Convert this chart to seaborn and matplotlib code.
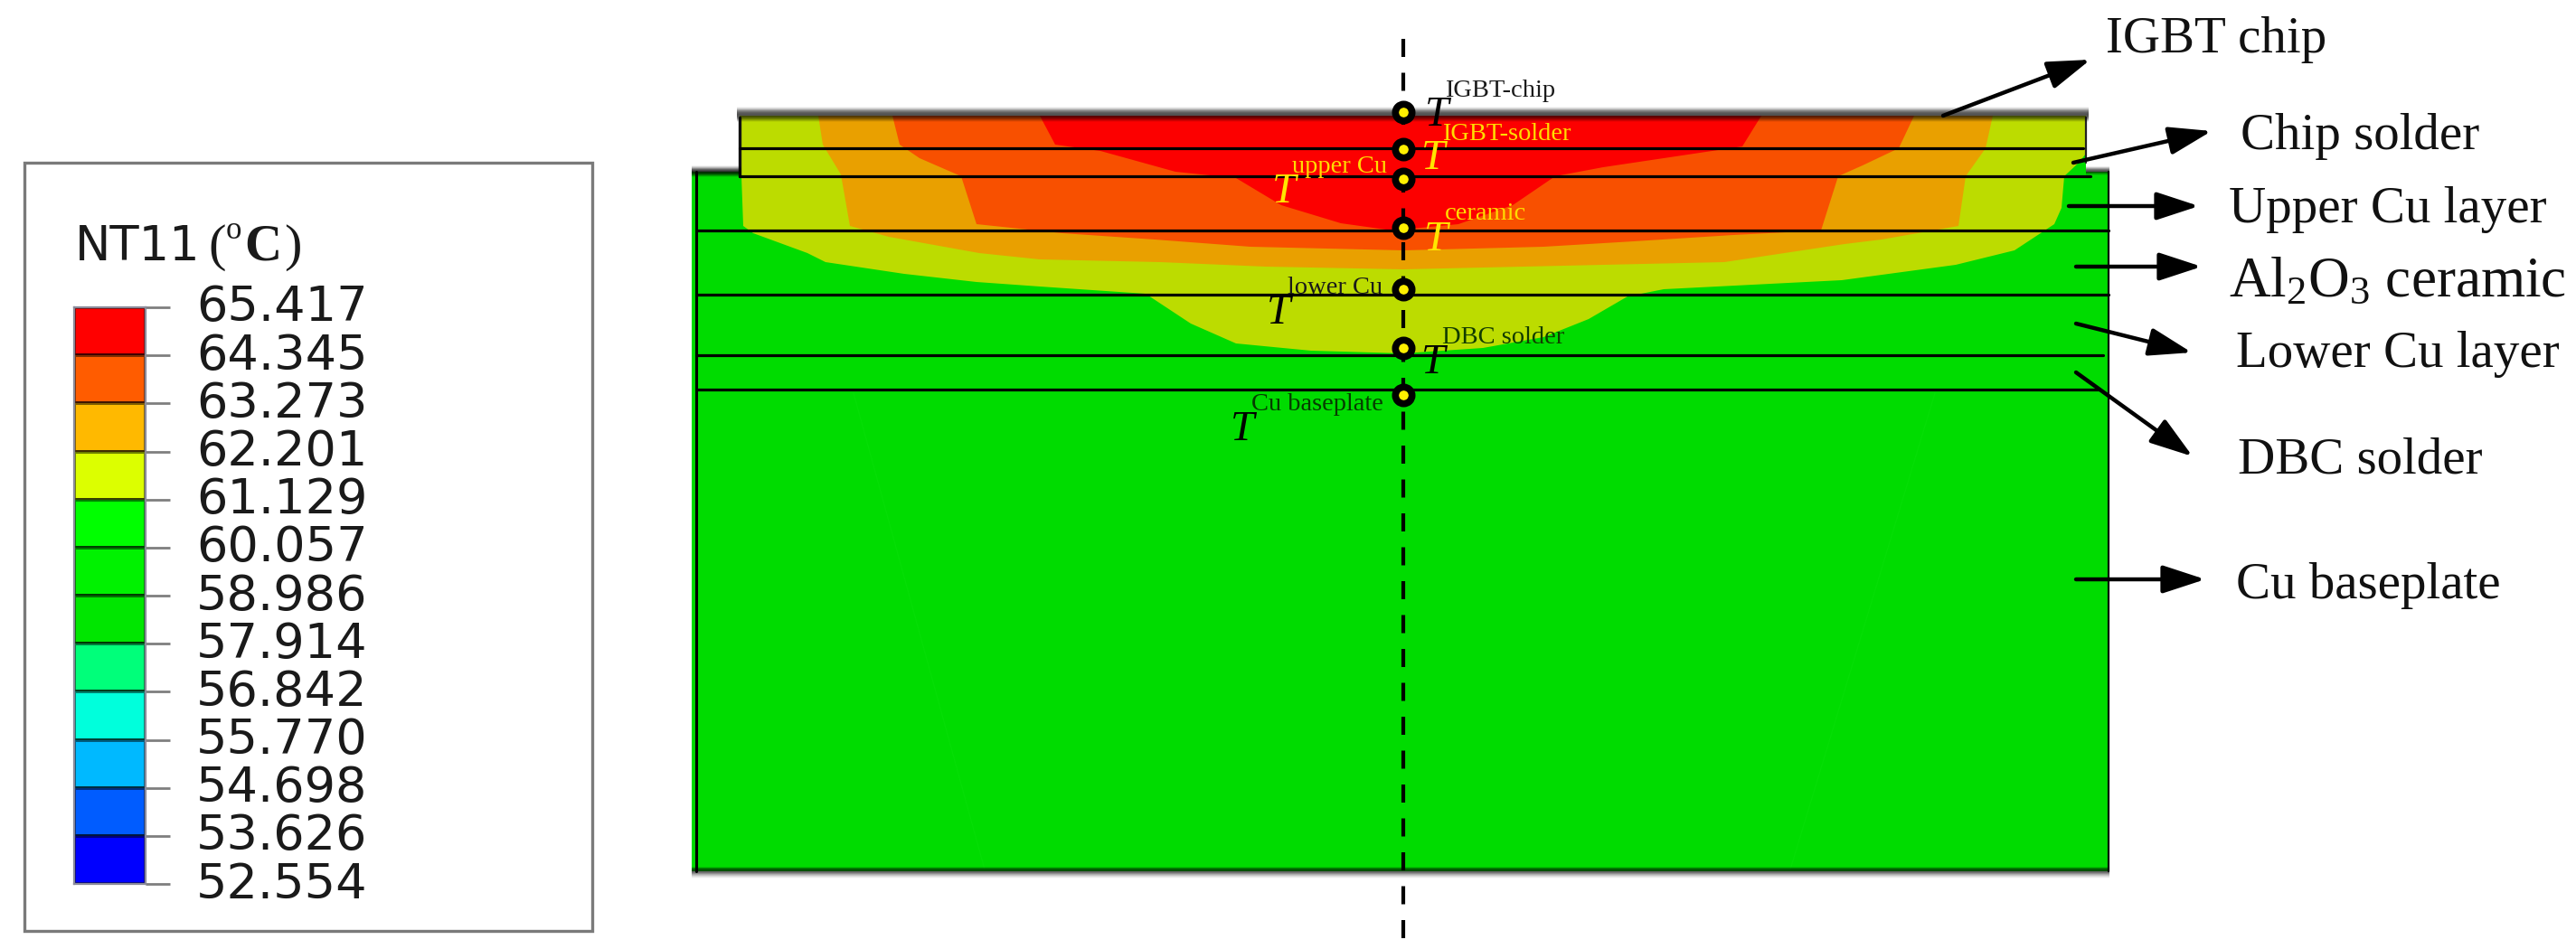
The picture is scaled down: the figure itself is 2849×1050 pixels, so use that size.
import numpy as np
import matplotlib
matplotlib.use("Agg")
import matplotlib.pyplot as plt
from matplotlib.colors import ListedColormap
from matplotlib.patches import Rectangle
from matplotlib.transforms import ScaledTranslation
import seaborn as sns

sns.set_theme(style="white")
plt.rcParams["font.family"] = ["DejaVu Sans"]
plt.rcParams["mathtext.fontset"] = "custom"
plt.rcParams["mathtext.rm"] = "Liberation Serif"
plt.rcParams["mathtext.default"] = "rm"

W, H = 2849, 1050
SERIF = "Liberation Serif"

# legend scale, top to bottom
legend_ticks = [65.417, 64.345, 63.273, 62.201, 61.129, 60.057, 58.986,
                57.914, 56.842, 55.770, 54.698, 53.626, 52.554]
legend_colors = ["#FF0000", "#FF5C00", "#FFB900", "#DCFF00", "#00FF00", "#00F200",
                 "#00E600", "#00FF7A", "#00FFDC", "#00B9FF", "#005CFF", "#0000FF"]

# isotherm outlines
green_color = "#00DC00"
yellow_color = "#BCDC00"
orange_color = "#E9A000"
redorange_color = "#F85000"
red_color = "#FC0000"

body_x = [765, 818, 818, 2307, 2307, 2333, 2333, 765]
body_y = [190, 190, 128, 128, 190, 190, 964, 964]

yellow_x = [818, 818, 820, 822, 833, 893, 913, 1000, 1080, 1150, 1267, 1317, 1367, 1450, 1552,
            1640, 1707, 1757, 1800, 1840, 2037, 2163, 2228, 2272, 2280, 2283, 2299, 2307, 2307]
yellow_y = [128, 193, 195, 250, 258, 280, 290, 303, 312, 317, 325, 358, 380, 388, 391,
            385, 373, 353, 328, 320, 310, 293, 277, 248, 230, 195, 180, 170, 128]

orange_x = [905, 910, 930, 940, 983, 1083, 1150, 1283, 1400, 1552, 1773, 1907, 2040, 2081, 2166, 2174, 2196, 2204]
orange_y = [128, 160, 193, 250, 262, 280, 287, 290, 295, 298, 293, 290, 270, 265, 250, 195, 164, 128]

redorange_x = [987, 995, 1017, 1063, 1080, 1175, 1277, 1383, 1552, 1707, 1807, 1917, 2014, 2033, 2060, 2100, 2117]
redorange_y = [128, 160, 175, 195, 248, 258, 265, 273, 277, 273, 267, 260, 255, 195, 183, 164, 128]

red_x = [1150, 1167, 1217, 1300, 1367, 1417, 1483, 1540, 1613, 1673, 1720, 1773, 1840, 1927, 1948]
red_y = [128, 160, 167, 190, 197, 227, 247, 255, 248, 227, 195, 185, 175, 162, 128]

# layer interfaces: y, x start, x end
interface_y = [164, 195, 255, 326, 393, 431]
interface_x0 = [818, 818, 770, 770, 770, 770]
interface_x1 = [2304, 2312, 2332, 2332, 2326, 2322]

center_x = 1552
probe_y = [124, 165, 198, 252, 320, 385, 437]

# probe labels: subscript text, T position, subscript position, colour
probe_names = ["IGBT-chip", "IGBT-solder", "upper Cu", "ceramic", "lower Cu", "DBC solder", "Cu baseplate"]
t_x = [1576, 1572, 1407, 1575, 1401, 1572, 1361]
t_y = [139, 187, 224, 277, 358, 413, 487]
name_x = [1598, 1595, 1429, 1598, 1424, 1595, 1384]
name_y = [107, 155, 191, 243, 325, 380, 454]
name_colors = ["#1A1A1A", "#FFDC00", "#FFDC00", "#FFDC00", "#1A1A1A", "#123C00", "#063C00"]

# callouts on the right
layer_names = ["IGBT chip", "Chip solder", "Upper Cu layer", r"Al$_2$O$_3$ ceramic",
               "Lower Cu layer", "DBC solder", "Cu baseplate"]
layer_sizes = [41, 41, 41, 45.5, 41, 41, 41]
layer_text_x = [2329, 2478, 2465, 2465, 2473, 2475, 2473]
layer_text_y = [58, 165, 246, 328, 406, 524, 662]
arrow_x0 = [2149, 2293, 2288, 2296, 2296, 2296, 2296]
arrow_y0 = [128, 180, 228, 295, 358, 412, 641]
arrow_x1 = [2312, 2446, 2432, 2435, 2424, 2425, 2439]
arrow_y1 = [66, 145, 228, 295, 390, 505, 641]

fig = plt.figure(figsize=(W / 100, H / 100), dpi=100, facecolor="white")
ax = fig.add_axes([0, 0, 1, 1])


def soft_edge(x0, x1, y0, y1, alphas):
    # blurred dark outline, the source picture was upscaled
    rgba = np.zeros((len(alphas), 1, 4))
    rgba[:, 0, 3] = alphas
    ax.imshow(rgba, extent=(x0, x1, y1, y0), aspect="auto", interpolation="bilinear", zorder=4)


# temperature field
ax.fill(body_x, body_y, color=green_color, lw=0, zorder=1)
ax.fill(yellow_x, yellow_y, color=yellow_color, lw=0, zorder=1.1)
ax.fill(orange_x, orange_y, color=orange_color, lw=0, zorder=1.2)
ax.fill(redorange_x, redorange_y, color=redorange_color, lw=0, zorder=1.3)
ax.fill(red_x, red_y, color=red_color, lw=0, zorder=1.4)

# faint mesh streaks in the baseplate
ax.plot([944, 1089], [435, 962], color="#05DE05", lw=1, zorder=1.5)
ax.plot([2140, 1980], [435, 962], color="#05DE05", lw=1, zorder=1.5)

# outlines
soft_edge(815, 2310, 117, 136, [0, .18, .45, .62, .68, .66, .5, .25, 0])
soft_edge(765, 820, 182, 197, [0, .25, .6, .8, .75, .4, 0])
soft_edge(2307, 2333, 183, 195, [0, .3, .6, .7, .3, 0])
soft_edge(765, 2333, 958, 973, [0, .55, .65, .55, .3, .12, 0])
ax.plot([770, 770], [190, 964], color="black", lw=2.2, zorder=3)
ax.plot([2332, 2332], [190, 964], color="#0A0A0A", lw=1.6, zorder=3)
ax.plot([818, 818], [130, 195], color="#111111", lw=2.4, zorder=3)
ax.plot([2307, 2307], [130, 180], color="#222222", lw=1.6, zorder=3)

for y, x0, x1 in zip(interface_y, interface_x0, interface_x1):
    sns.lineplot(x=[x0, x1], y=[y, y], color="black", lw=2.3, errorbar=None, ax=ax, zorder=5)

# centre line and probes
ax.plot([center_x, center_x], [43, 1042], color="black", lw=3, dashes=(4.8, 4.2),
        dash_capstyle="butt", zorder=6)
sns.scatterplot(x=[center_x] * len(probe_y), y=probe_y, s=175, color="#FFF000",
                edgecolor="black", linewidth=5.5, ax=ax, zorder=7)

for name, tx, ty, nx, ny, col in zip(probe_names, t_x, t_y, name_x, name_y, name_colors):
    t_col = "#FFE600" if col == "#FFDC00" else "black"
    ax.text(tx, ty, "T", family=SERIF, style="italic", fontsize=34, color=t_col,
            ha="left", va="baseline", zorder=8)
    ax.text(nx, ny, name, family=SERIF, fontsize=20.5, color=col,
            ha="left", va="baseline", zorder=8)

# right hand callouts
for i, name in enumerate(layer_names):
    ax.text(layer_text_x[i], layer_text_y[i], name, family=SERIF, fontsize=layer_sizes[i], color="#111111",
            ha="left", va="baseline", zorder=8)
    ax.annotate("", xy=(arrow_x1[i], arrow_y1[i]), xytext=(arrow_x0[i], arrow_y0[i]),
                arrowprops=dict(arrowstyle="-|>,head_length=2.9,head_width=0.95", mutation_scale=10,
                                lw=3.2, color="black", shrinkA=0, shrinkB=0), zorder=9)

# legend frame and title
ax.add_patch(Rectangle((27, 180), 628, 850, fill=False, ec="#7A7A7A", lw=2.4, zorder=2))
ax.text(83, 288, "NT11", fontsize=38, color="#1A1A1A", ha="left", va="baseline")
ax.text(230, 288, "(", family=SERIF, fontsize=42, color="#1A1A1A", ha="left", va="baseline")
ax.text(250, 264, "o", family=SERIF, fontsize=25, color="#1A1A1A", ha="left", va="baseline")
ax.text(270, 288, "C", family=SERIF, weight="bold", fontsize=41, color="#1A1A1A", ha="left", va="baseline")
ax.text(314, 288, ")", family=SERIF, fontsize=42, color="#1A1A1A", ha="left", va="baseline")

ax.set_xlim(0, W)
ax.set_ylim(H, 0)
ax.axis("off")

# legend scale as a one column heatmap
ticks = np.array(legend_ticks)
mids = (ticks[:-1] + ticks[1:]) / 2
cax = fig.add_axes([82 / W, 1 - 978 / H, 79 / W, 638 / H])
sns.heatmap(mids[:, None], cmap=ListedColormap(legend_colors[::-1]), vmin=ticks[-1], vmax=ticks[0],
            cbar=False, linewidths=1.6, linecolor=(0, 0, 0, 0.5), xticklabels=False, ax=cax)
cax.set_yticks(np.arange(len(legend_ticks)))
cax.set_yticklabels([f"{t:.3f}" for t in legend_ticks], rotation=0, fontsize=39, color="#1A1A1A")
cax.yaxis.tick_right()
cax.tick_params(axis="y", right=True, left=False, length=19.5, width=2, color="#7F7F7F", pad=21)
shift = ScaledTranslation(0, 5 / 100, fig.dpi_scale_trans)
for lab in cax.get_yticklabels():
    lab.set_transform(lab.get_transform() + shift)
for side in cax.spines.values():
    side.set_visible(True)
    side.set_color("#8A8A9A")
    side.set_linewidth(1.6)

fig.savefig("out.png", dpi=100, facecolor="white")
